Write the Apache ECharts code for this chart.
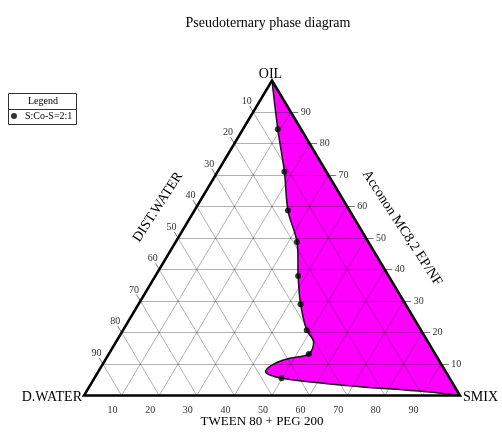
<!DOCTYPE html>
<html><head><meta charset="utf-8">
<script src="https://cdn.jsdelivr.net/npm/echarts@6/dist/echarts.min.js"></script>
<style>html,body{margin:0;padding:0;background:#fff}#c{width:502px;height:434px}</style>
</head><body><div id="c"></div>
<script>
// Tick values (percent) used on all three sides
const ticks = [10, 20, 30, 40, 50, 60, 70, 80, 90];
// Measured points S:Co-S = 2:1 (oil %, smix %; water = rest)
const dotOil  = [84.5, 71.0, 58.7, 48.7, 37.9, 29.0, 20.7, 13.2, 5.5];
const dotSmix = [9.3, 17.8, 24.9, 32.3, 38.0, 43.1, 48.9, 53.2, 49.8];
// Boundary of the microemulsion region (apex -> SMIX)
const curveOil  = [100, 84.5, 71.0, 58.7, 48.7, 37.9, 29.0, 20.7, 17.1, 13.2, 11.8, 10.2, 7.8, 6.5, 5.5, 3.65, 2.8, 1.2, 0];
const curveSmix = [0, 9.3, 17.8, 24.9, 32.3, 38.0, 43.1, 48.9, 52.5, 53.2, 48.9, 45.7, 44.4, 46.2, 49.8, 63.6, 72.0, 90.5, 100];
const seriesName = 'S:Co-S=2:1';

const SERIF = '"Liberation Serif", "DejaVu Serif", serif';
// ternary (oil, smix) -> cartesian data coords
function tern(oil, smix) { return [smix + oil / 2, oil]; }

const gridLines = [], tickLines = [], tickLabels = [];
ticks.forEach(t => {
  gridLines.push({coords: [tern(t, 0), tern(t, 100 - t)]});          // const oil
  gridLines.push({coords: [tern(100 - t, 0), tern(0, 100 - t)]});    // const water
  gridLines.push({coords: [tern(0, t), tern(100 - t, t)]});          // const smix
  tickLines.push({coords: [tern(t, 100 - t), tern(t, 102 - t)]});
  tickLines.push({coords: [tern(100 - t, 0), tern(102 - t, -2)]});
  tickLines.push({coords: [tern(0, t), tern(-2, t)]});
  tickLabels.push(tern(t, 104 - t).concat([t]));
  tickLabels.push(tern(103.4 - t, -3.4).concat([t]));
  tickLabels.push(tern(-4.8, t).concat([t]));
});
const curveData = curveOil.map((o, i) => tern(o, curveSmix[i]));
const dotData = dotOil.map((o, i) => tern(o, dotSmix[i]));
const triData = [tern(0, 0), tern(0, 100), tern(100, 0)];

const chart = echarts.init(document.getElementById('c'), null, {renderer: 'canvas'});
chart.setOption({
  animation: false,
  backgroundColor: '#fff',
  title: {
    text: 'Pseudoternary phase diagram', left: 263, top: 11, textAlign: 'center',
    textStyle: {fontFamily: SERIF, fontSize: 14, fontWeight: 'normal', color: '#000'}
  },
  legend: {
    data: [seriesName], left: 11, top: 111, padding: 0, icon: 'circle',
    itemWidth: 6, itemHeight: 6,
    textStyle: {fontFamily: SERIF, fontSize: 10, color: '#000', padding: [0, 0, 0, 3]}
  },
  grid: {left: 84, right: 42, top: 80.5, bottom: 38.5},
  xAxis: {type: 'value', min: 0, max: 100, show: false},
  yAxis: {type: 'value', min: 0, max: 100, show: false},
  graphic: [
    {type: 'rect', shape: {x: 8.5, y: 93.5, width: 68, height: 31}, style: {fill: '#fff', stroke: '#333', lineWidth: 1}, z: 0},
    {type: 'line', shape: {x1: 8.5, y1: 109.5, x2: 76.5, y2: 109.5}, style: {stroke: '#333', lineWidth: 1}},
    {type: 'text', x: 43, y: 101.5, style: {text: 'Legend', font: '10px ' + SERIF, fill: '#000', align: 'center', verticalAlign: 'middle'}},
    {type: 'text', x: 270.5, y: 74, style: {text: 'OIL', font: '14px ' + SERIF, fill: '#000', align: 'center', verticalAlign: 'middle'}},
    {type: 'text', x: 82, y: 397.5, style: {text: 'D.WATER', font: '14px ' + SERIF, fill: '#000', align: 'right', verticalAlign: 'middle'}},
    {type: 'text', x: 463, y: 397.5, style: {text: 'SMIX', font: '14px ' + SERIF, fill: '#000', align: 'left', verticalAlign: 'middle'}},
    {type: 'text', x: 262, y: 422, style: {text: 'TWEEN 80 + PEG 200', font: '13px ' + SERIF, fill: '#000', align: 'center', verticalAlign: 'middle'}},
    {type: 'text', x: 158, y: 207, rotation: 57 * Math.PI / 180, style: {text: 'DIST.WATER', font: '14px ' + SERIF, fill: '#000', align: 'center', verticalAlign: 'middle'}},
    {type: 'text', x: 402, y: 228, rotation: -57 * Math.PI / 180, style: {text: 'Acconon MC8,2 EP/NF', font: '14px ' + SERIF, fill: '#000', align: 'center', verticalAlign: 'middle'}}
  ],
  series: [
    {
      type: 'custom', name: 'region', z: 1, silent: true, data: curveData,
      renderItem: function (params, api) {
        if (params.dataIndex !== 0) return null;
        const pts = curveData.map(p => api.coord(p));
        const poly = [pts[0]].concat(pts, [pts[pts.length - 1]]);
        return {type: 'polygon', shape: {points: poly, smooth: 0.35}, style: {fill: '#ff00ff', stroke: null}};
      }
    },
    {
      type: 'lines', coordinateSystem: 'cartesian2d', z: 2, silent: true, data: gridLines,
      lineStyle: {color: '#000', width: 0.8, opacity: 0.38}
    },
    {
      type: 'lines', coordinateSystem: 'cartesian2d', z: 2, silent: true, data: tickLines,
      lineStyle: {color: '#000', width: 0.9, opacity: 0.6}
    },
    {
      type: 'custom', name: 'ticklabels', z: 3, silent: true, data: tickLabels,
      renderItem: function (params, api) {
        const p = api.coord([api.value(0), api.value(1)]);
        return {type: 'text', x: p[0], y: p[1], style: {text: String(api.value(2)), font: '10px ' + SERIF, fill: '#333', align: 'center', verticalAlign: 'middle'}};
      }
    },
    {
      type: 'custom', name: 'boundary', z: 4, silent: true, data: curveData,
      renderItem: function (params, api) {
        if (params.dataIndex !== 0) return null;
        const pts = curveData.map(p => api.coord(p));
        return {type: 'polyline', shape: {points: pts, smooth: 0.35}, style: {stroke: '#111', lineWidth: 1.5, fill: null}};
      }
    },
    {
      type: 'custom', name: 'triangle', z: 5, silent: true, data: triData,
      renderItem: function (params, api) {
        if (params.dataIndex !== 0) return null;
        const pts = triData.map(p => api.coord(p));
        return {type: 'polygon', shape: {points: pts}, style: {fill: null, stroke: '#000', lineWidth: 2.5, lineJoin: 'miter'}};
      }
    },
    {
      type: 'scatter', name: seriesName, z: 6, data: dotData, symbol: 'circle', symbolSize: 6,
      itemStyle: {color: '#000'}
    }
  ]
});
</script></body></html>
